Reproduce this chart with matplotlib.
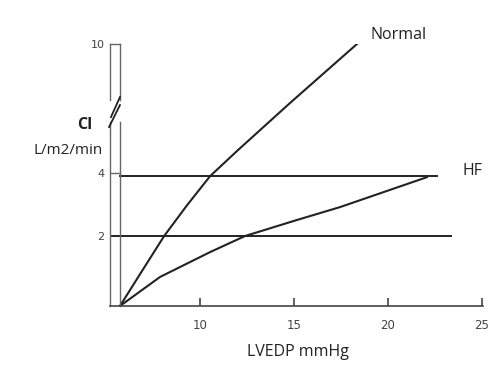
import numpy as np
import matplotlib
matplotlib.use("Agg")
import matplotlib.pyplot as plt

# values (LVEDP mmHg vs CI L/m2/min)
normal_x = [5.74, 6.97, 8.09, 9.31, 10.53, 12.02, 14.79, 18.35]
normal_y = [0.0, 1.05, 2.0, 2.98, 3.9, 5.07, 7.26, 10.0]

hf_x = [5.74, 7.87, 10.53, 12.39, 15.1, 17.45, 22.07]
hf_y = [0.0, 0.83, 1.54, 2.0, 2.5, 2.92, 3.87]

hf_level = 3.9
hf_level_end = 22.6
ci2_level = 2.0
ci2_end = 23.35

x_ticks = [10, 15, 20, 25]
y_ticks = [2, 4, 10]

# broken y axis: 0-4 roughly linear, 4-10 squeezed
ci_nodes = [0, 2, 4, 10]
pos_nodes = [0, 2, 3.8, 7.49]


def fwd(y):
    return np.interp(y, ci_nodes, pos_nodes)


def inv(y):
    return np.interp(y, pos_nodes, ci_nodes)


fig = plt.figure(figsize=(5.0, 3.66), dpi=100)
ax = fig.add_axes([0.22, 0.1639, 0.746, 0.716])
ax.set_yscale("function", functions=(fwd, inv))
ax.set_xlim(5.21, 25.05)
ax.set_ylim(0, 10)

line_c = "#222222"
axis_c = "#666666"

ax.plot(normal_x, normal_y, color=line_c, lw=1.5)
ax.plot(hf_x, hf_y, color=line_c, lw=1.5)

ax.plot([normal_x[0], hf_level_end], [hf_level, hf_level], color=line_c, lw=1.4)
ax.plot([5.21, ci2_end], [ci2_level, ci2_level], color=line_c, lw=1.4)
ax.plot([5.21, 5.74], [4, 4], color=axis_c, lw=1)

# double-line y axis with break
x0, x1 = 5.21, 5.74
for xx in (x0, x1):
    ax.plot([xx, xx], [0, 6.37], color=axis_c, lw=1, clip_on=False)
    ax.plot([xx, xx], [7.39, 10], color=axis_c, lw=1, clip_on=False)
ax.plot([x0, x1], [10, 10], color=axis_c, lw=1, clip_on=False)
ax.plot([5.74, 5.26], [7.53, 6.6], color=line_c, lw=1.3, clip_on=False)
ax.plot([5.74, 5.16], [7.16, 6.14], color=line_c, lw=1.3, clip_on=False)

for s in ("top", "right", "left"):
    ax.spines[s].set_visible(False)
ax.spines["bottom"].set_color("#444444")
ax.spines["bottom"].set_linewidth(1.2)

ax.set_xticks(x_ticks)
ax.set_xticklabels([str(t) for t in x_ticks], fontsize=8.5, color="#444444")
ax.tick_params(axis="x", direction="in", length=6, width=1.2, color="#444444", pad=9)
ax.set_yticks(y_ticks)
ax.set_yticklabels([str(t) for t in y_ticks], fontsize=8, color="#444444")
ax.yaxis.set_minor_locator(matplotlib.ticker.NullLocator())
ax.tick_params(axis="y", length=0, pad=4)

fig.text(0.596, 0.038, "LVEDP mmHg", ha="center", va="center", fontsize=11.5,
         family="Open Sans", color="#222222")
fig.text(0.17, 0.658, "CI", ha="center", va="center", fontsize=11.5,
         fontweight="bold", family="Open Sans", color="#222222")
fig.text(0.206, 0.59, "L/m2/min", ha="right", va="center", fontsize=11,
         family="Open Sans", color="#222222")
fig.text(0.742, 0.905, "Normal", ha="left", va="center", fontsize=11.5,
         family="Open Sans", color="#222222")
fig.text(0.924, 0.532, "HF", ha="left", va="center", fontsize=11.5,
         family="Open Sans", color="#222222")

fig.savefig("out.png", dpi=100, facecolor="white")
